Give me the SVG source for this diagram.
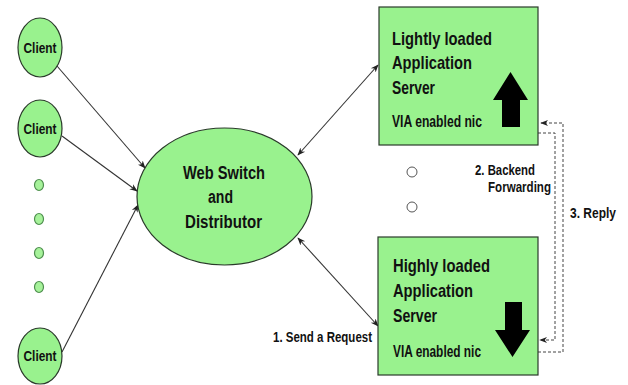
<svg xmlns="http://www.w3.org/2000/svg" width="628" height="385" viewBox="0 0 628 385">
<defs>
<marker id="ah" viewBox="0 0 10 10" refX="9" refY="5" markerWidth="8" markerHeight="8" orient="auto-start-reverse" markerUnits="userSpaceOnUse">
<path d="M0,1 L10,5 L0,9 L3,5 Z" fill="#222"/>
</marker>
<style>
.node{fill:#99f28e;stroke:#2a3a2a;stroke-width:1.2}
.dot{fill:#a6f29a;stroke:#4f8f4f;stroke-width:1.2}
.odot{fill:#fff;stroke:#555;stroke-width:1}
.t{font-family:"Liberation Sans",Arial,sans-serif;font-weight:bold;fill:#111}
.conn{stroke:#333;stroke-width:1.1;fill:none}
.dash{stroke:#444;stroke-width:1;fill:none;stroke-dasharray:3 2}
</style>
</defs>
<rect width="628" height="385" fill="#fff"/>
<g id="connectors">
<line class="conn" x1="57" y1="66" x2="145" y2="168" marker-end="url(#ah)"/>
<line class="conn" x1="62" y1="136" x2="137" y2="191" marker-end="url(#ah)"/>
<line class="conn" x1="62" y1="352" x2="138" y2="205" marker-end="url(#ah)"/>
<line class="conn" x1="298" y1="155" x2="378" y2="65" marker-start="url(#ah)" marker-end="url(#ah)"/>
<line class="conn" x1="298" y1="238" x2="378" y2="326" marker-start="url(#ah)" marker-end="url(#ah)"/>
<polyline class="dash" points="538,133 555,133 555,340 540,340" marker-end="url(#ah)"/>
<polyline class="dash" points="538,352 563,352 563,123 541,123" marker-end="url(#ah)"/>
</g>
<g id="client1">
<ellipse class="node" cx="40" cy="47.5" rx="22" ry="29.5"/>
<text class="t" x="23.5" y="53" font-size="15" textLength="33" lengthAdjust="spacingAndGlyphs">Client</text>
</g>
<g id="client2">
<ellipse class="node" cx="40" cy="128.5" rx="22" ry="28.5"/>
<text class="t" x="23.5" y="134" font-size="15" textLength="33" lengthAdjust="spacingAndGlyphs">Client</text>
</g>
<g id="client3">
<ellipse class="node" cx="40" cy="356" rx="22" ry="28"/>
<text class="t" x="23.5" y="361" font-size="15" textLength="33" lengthAdjust="spacingAndGlyphs">Client</text>
</g>
<g id="more-clients">
<ellipse class="dot" cx="39" cy="185" rx="4.5" ry="5.5"/>
<ellipse class="dot" cx="39" cy="219" rx="4.5" ry="5.5"/>
<ellipse class="dot" cx="39" cy="253" rx="4.5" ry="5.5"/>
<ellipse class="dot" cx="39" cy="287" rx="4.5" ry="5.5"/>
</g>
<g id="web-switch">
<ellipse class="node" cx="224.5" cy="196.5" rx="87.5" ry="68.5"/>
<text class="t" x="183" y="179" font-size="18" textLength="82" lengthAdjust="spacingAndGlyphs">Web Switch</text>
<text class="t" x="208" y="203" font-size="18" textLength="25" lengthAdjust="spacingAndGlyphs">and</text>
<text class="t" x="185" y="228" font-size="18" textLength="77" lengthAdjust="spacingAndGlyphs">Distributor</text>
</g>
<g id="light-server">
<rect class="node" x="379" y="7" width="159" height="138"/>
<text class="t" x="392" y="45" font-size="19" textLength="100" lengthAdjust="spacingAndGlyphs">Lightly loaded</text>
<text class="t" x="392" y="69" font-size="19" textLength="80" lengthAdjust="spacingAndGlyphs">Application</text>
<text class="t" x="392" y="94" font-size="19" textLength="43" lengthAdjust="spacingAndGlyphs">Server</text>
<text class="t" x="392" y="127" font-size="16" textLength="90" lengthAdjust="spacingAndGlyphs">VIA enabled nic</text>
<polygon points="510.5,72 528,100 520,100 520,127 502,127 502,100 493,100" fill="#000"/>
</g>
<g id="servers-between">
<circle class="odot" cx="412" cy="172" r="5"/>
<circle class="odot" cx="412" cy="207" r="5"/>
</g>
<g id="heavy-server">
<rect class="node" x="378" y="237" width="160" height="138"/>
<text class="t" x="393" y="272" font-size="19" textLength="97" lengthAdjust="spacingAndGlyphs">Highly loaded</text>
<text class="t" x="393" y="297" font-size="19" textLength="80" lengthAdjust="spacingAndGlyphs">Application</text>
<text class="t" x="393" y="322" font-size="19" textLength="44" lengthAdjust="spacingAndGlyphs">Server</text>
<text class="t" x="393" y="357" font-size="16" textLength="88" lengthAdjust="spacingAndGlyphs">VIA enabled nic</text>
<polygon points="512.5,357 530,330 522,330 522,302 505,302 505,330 495,330" fill="#000"/>
</g>
<g id="labels">
<text class="t" x="273" y="342" font-size="15" textLength="99" lengthAdjust="spacingAndGlyphs">1. Send a Request</text>
<text class="t" x="475" y="175" font-size="15" textLength="60" lengthAdjust="spacingAndGlyphs">2. Backend</text>
<text class="t" x="488" y="192" font-size="15" textLength="63" lengthAdjust="spacingAndGlyphs">Forwarding</text>
<text class="t" x="570" y="218" font-size="15" textLength="46" lengthAdjust="spacingAndGlyphs">3. Reply</text>
</g>
</svg>
